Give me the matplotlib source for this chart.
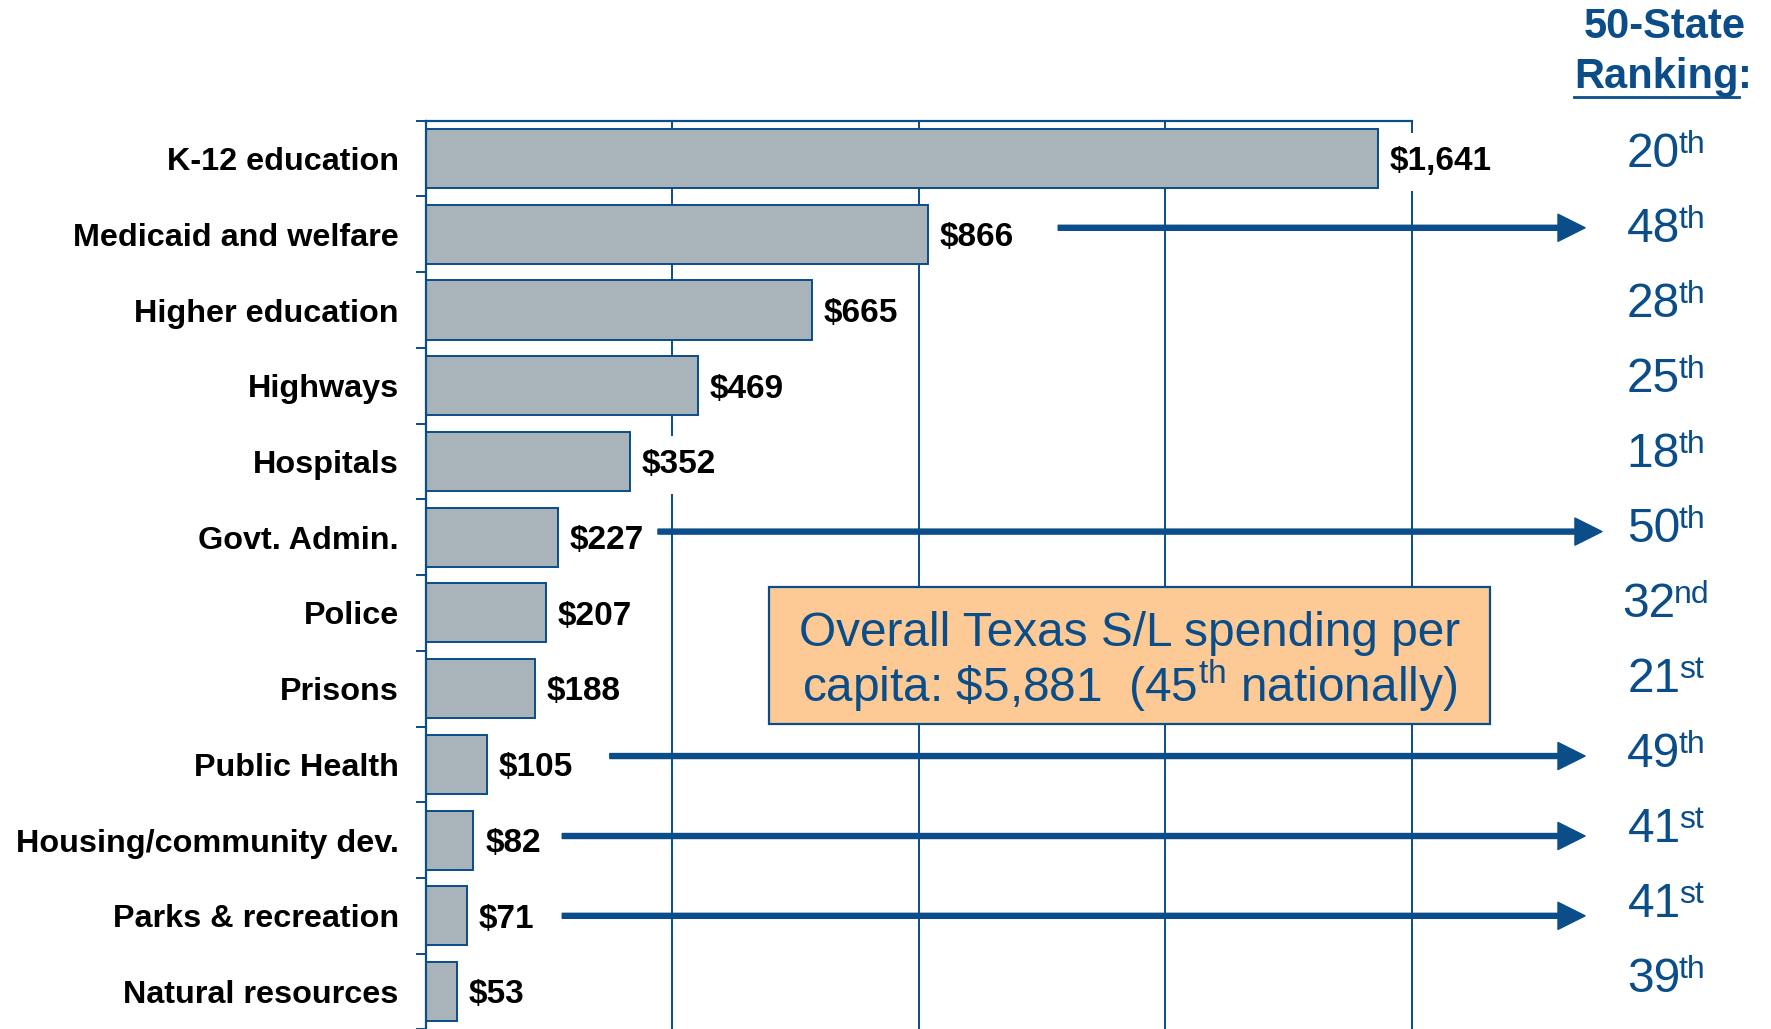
import numpy as np
import matplotlib
matplotlib.use("Agg")
import matplotlib.pyplot as plt
from matplotlib.lines import Line2D
from matplotlib.patches import Rectangle
from matplotlib.transforms import blended_transform_factory, offset_copy

# Data: Texas state & local spending per capita, with 50-state rankings.

categories = ["K-12 education", "Medicaid and welfare", "Higher education",
              "Highways", "Hospitals", "Govt. Admin.", "Police", "Prisons",
              "Public Health", "Housing/community dev.", "Parks & recreation",
              "Natural resources"]
spending = [1641, 866, 665, 469, 352, 227, 207, 188, 105, 82, 71, 53]
rank_num = [20, 48, 28, 25, 18, 50, 32, 21, 49, 41, 41, 39]
rank_suffix = ["th", "th", "th", "th", "th", "th", "nd", "st", "th", "st", "st", "th"]

# Rows that get an arrow pointing to the ranking column.
arrow_rows = [1, 5, 8, 9, 10]
arrow_start = [1090, 400, 317, 235, 235]  # where each arrow starts ($ scale)

plt.rcParams["font.family"] = ["Liberation Sans", "DejaVu Sans"]
plt.rcParams["mathtext.fontset"] = "custom"
plt.rcParams["mathtext.rm"] = "Liberation Sans"
plt.rcParams["mathtext.it"] = "Liberation Sans:italic"
plt.rcParams["mathtext.bf"] = "Liberation Sans:bold"

blue = "#0A4D88"
grey = "#A8B4B9"
orange = "#FDCA96"

fig = plt.figure(figsize=(17.71, 10.29), dpi=100)
ax = fig.add_axes([0.2405, -0.0004, 0.5568, 0.8831])

y = np.arange(len(categories))
ax.barh(y, spending, height=0.78, color=grey, edgecolor=blue, linewidth=1.4, zorder=2)
ax.set_xlim(0, 1700)
ax.set_ylim(len(categories) - 0.5, -0.5)

# Vertical gridlines (the last one doubles as right border).
ax.vlines([425, 850, 1275, 1700], -0.5, len(categories) - 0.5,
          colors=blue, lw=1.4, zorder=0.5, clip_on=False)

for side in ["right", "bottom"]:
    ax.spines[side].set_visible(False)
for side in ["left", "top"]:
    ax.spines[side].set_color(blue)
    ax.spines[side].set_linewidth(1.6)
    ax.spines[side].set_zorder(5)

ax.set_xticks([])
ax.set_yticks(np.arange(-0.5, len(categories), 1))
ax.set_yticklabels([])
ax.set_yticks(y, minor=True)
ax.set_yticklabels(categories, minor=True, fontsize=23.3, fontweight="bold")
ax.tick_params(axis="y", which="major", length=7.2, width=1.4, color=blue, direction="out")
ax.tick_params(axis="y", which="minor", length=0, pad=19.5)

# Value labels on white boxes (they hide the gridlines behind them).
for yi, v in zip(y, spending):
    ax.annotate(f"${v:,}", xy=(v, yi), xytext=(8.5, -2.4), textcoords="offset points",
                ha="left", va="center", fontsize=24, fontweight="bold",
                bbox=dict(boxstyle="square,pad=0.4", fc="white", ec="none"),
                zorder=1)

# Ranking column: number + raised suffix, centred together.
blend = blended_transform_factory(ax.transAxes, ax.transData)
sup_tr = offset_copy(blend, fig=fig, y=10, units="points")
rank_x = 1.2576
pairs = []
for i, (n, s) in enumerate(zip(rank_num, rank_suffix)):
    yb = 0.112 + 0.99 * i
    tn = ax.text(rank_x, yb, str(n), transform=blend, ha="left", va="baseline",
                 fontsize=34.5, color=blue, clip_on=False)
    ts = ax.text(rank_x, yb, s, transform=sup_tr, ha="left", va="baseline",
                 fontsize=23, color=blue, clip_on=False)
    pairs.append((tn, ts))

# Arrows.
for r, x0 in zip(arrow_rows, arrow_start):
    tip = 1.1927 if r == 5 else 1.1755
    dy = {1: -0.086, 5: -0.074, 8: -0.11, 9: -0.054, 10: 0.0}[r]
    ax.annotate("", xy=(tip, r + dy), xycoords=("axes fraction", "data"),
                xytext=(x0, r + dy), textcoords="data",
                arrowprops=dict(width=3.6, headwidth=19.5, headlength=19.5,
                                color=blue, shrink=0),
                annotation_clip=False, zorder=4)

# Summary box.
ax.add_patch(Rectangle((0.348, 0.336), 0.731, 0.151, transform=ax.transAxes,
                       fc=orange, ec=blue, lw=1.6, zorder=3, clip_on=False))
ax.text(0.7136, 0.4219, "Overall Texas S/L spending per", transform=ax.transAxes,
        ha="center", va="baseline", fontsize=34.4, color=blue, zorder=4)
ax.text(0.7136, 0.3606, r"capita: \$5,881  (45$^{\mathrm{th}}$ nationally)",
        transform=ax.transAxes, ha="center", va="baseline", fontsize=34.4,
        color=blue, zorder=4)

# Column header.
fig.text(1665 / 1771, 1 - 38.3 / 1029, "50-State", ha="center", va="baseline",
         fontsize=30, fontweight="bold", color=blue)
t = fig.text(1574 / 1771, 1 - 88.3 / 1029, "Ranking", ha="left", va="baseline",
             fontsize=30, fontweight="bold", color=blue)

fig.canvas.draw()
W, H = fig.canvas.get_width_height()
axw = ax.bbox.width
gap = -1.5
for tn, ts in pairs:
    wn = tn.get_window_extent().width
    ws = ts.get_window_extent().width
    x0 = rank_x - (wn + gap + ws) / 2 / axw
    tn.set_x(x0)
    ts.set_x(x0 + (wn + gap) / axw)

bb = t.get_window_extent()
fig.text(bb.x1 / W, 1 - 88.3 / 1029, ":", ha="left", va="baseline",
         fontsize=30, fontweight="bold", color=blue)
fig.add_artist(Line2D([bb.x0 / W, bb.x1 / W], [1 - 96.7 / 1029] * 2,
                      color=blue, lw=2, transform=fig.transFigure))

fig.savefig("out.png", dpi=100)
